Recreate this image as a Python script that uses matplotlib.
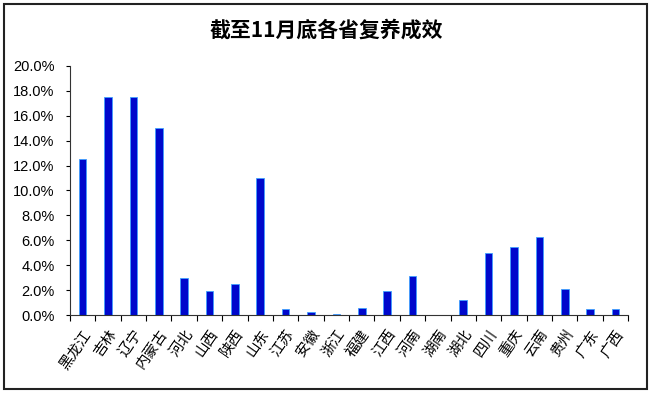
"""Bar chart: recovery of pig breeding by province, end of November."""

import matplotlib
matplotlib.use('Agg')
import matplotlib.pyplot as plt
from matplotlib.patches import Rectangle
from matplotlib.ticker import FuncFormatter, MultipleLocator

provinces = ['黑龙江', '吉林', '辽宁', '内蒙古', '河北', '山西', '陕西', '山东',
             '江苏', '安徽', '浙江', '福建', '江西', '河南', '湖南', '湖北',
             '四川', '重庆', '云南', '贵州', '广东', '广西']
recovery = [12.5, 17.5, 17.5, 15.0, 3.0, 1.9, 2.5, 11.0,
            0.5, 0.25, 0.1, 0.55, 1.9, 3.15, 0.0, 1.2,
            5.0, 5.5, 6.3, 2.05, 0.5, 0.5]

plt.rcParams['font.family'] = ['Noto Sans CJK SC', 'DejaVu Sans']

fig = plt.figure(figsize=(6.53, 3.94), dpi=100)
ax = fig.add_axes([0.107, 0.2005, 0.855, 0.632])

x = range(len(provinces))
ax.bar(x, recovery, width=0.3, color='#0008CC', edgecolor='#3FA0FF', linewidth=0.6)

ax.set_xlim(-0.5, len(provinces) - 0.5)
ax.set_ylim(0, 20)
ax.yaxis.set_major_locator(MultipleLocator(2))
ax.yaxis.set_major_formatter(FuncFormatter(lambda v, p: f'{v:.1f}%'))
for lbl in ax.get_yticklabels():
    lbl.set_family(['Liberation Sans', 'DejaVu Sans'])
ax.tick_params(axis='y', labelsize=10.5, length=3, width=0.8, pad=8)

# ticks between categories, labels under each bar
ax.set_xticks([i - 0.5 for i in range(len(provinces) + 1)])
ax.set_xticklabels([])
ax.set_xticks(list(x), minor=True)
ax.set_xticklabels(provinces, minor=True, rotation=55, ha='right',
                   rotation_mode='anchor', fontsize=10.5)
ax.tick_params(axis='x', which='major', length=4, width=0.8)
ax.tick_params(axis='x', which='minor', length=0, pad=9)

for side in ['top', 'right']:
    ax.spines[side].set_visible(False)
for side in ['left', 'bottom']:
    ax.spines[side].set_linewidth(0.8)
    ax.spines[side].set_color('#333333')

fig.text(0.5, 0.923, '截至11月底各省复养成效', ha='center', va='center',
         fontsize=15, fontweight='bold')

fig.patches.append(Rectangle((0.006, 0.012), 0.985, 0.978, transform=fig.transFigure,
                             fill=False, edgecolor='#222222', linewidth=1.5))

fig.savefig('out.png', dpi=100)
